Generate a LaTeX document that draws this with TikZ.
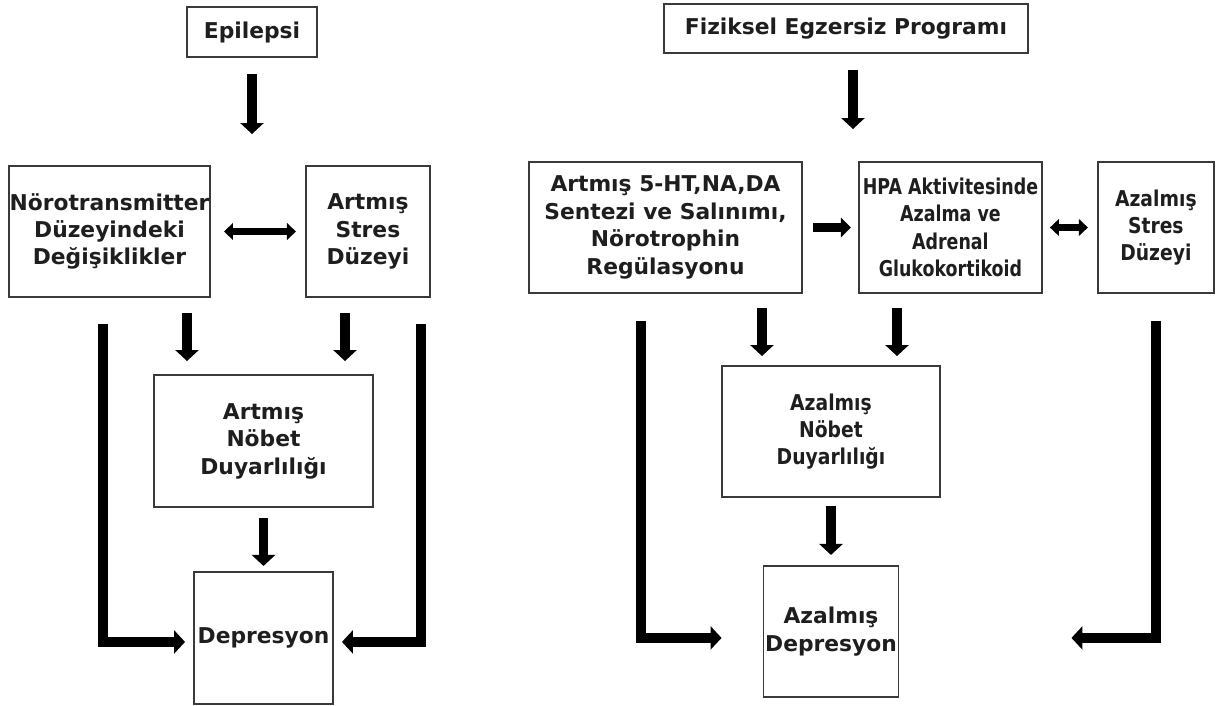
\documentclass[tikz,border=0pt]{standalone}
\usepackage{fontspec}
\setmainfont{DejaVu Sans}
\newfontfamily\narrowfont[FakeStretch=0.80]{DejaVu Sans}
\newfontfamily\semifont[FakeStretch=0.86]{DejaVu Sans}
\usetikzlibrary{
  arrows.meta,
  positioning
}
\definecolor{boxgray}{HTML}{3A3A3A}
\definecolor{txtgray}{HTML}{1E1E1E}

\begin{document}
\begin{tikzpicture}[
  box/.style={draw=boxgray, line width=1.1pt, minimum height=2.62cm, inner sep=0pt,
    align=center, text=txtgray, font=\fontsize{12.4}{15.6}\selectfont\bfseries},
  narrow/.style={font=\fontsize{12.4}{15.6}\selectfont\narrowfont\bfseries},
  semi/.style={font=\fontsize{12.4}{15.6}\selectfont\semifont\bfseries},
  arrow/.style={-{Triangle[length=0.22cm, width=0.46cm]}, line width=5.2pt},
  shortarrow/.style={-{Triangle[length=0.2cm, width=0.38cm]}, line width=4.8pt},
  elbow/.style={arrow, line width=5.8pt},
  twoway/.style={{Triangle[length=0.18cm, width=0.33cm]}-{Triangle[length=0.18cm, width=0.33cm]},
    line width=4.2pt}
]
  \useasboundingbox (0,0) rectangle (24.38,-14.12);

  % --- Epilepsi side ---
  \node[box, minimum width=4.02cm] (noro) at (2.19,-4.63) {Nörotransmitter\\Düzeyindeki\\Değişiklikler};
  \node[box, minimum width=2.48cm, right=1.88cm of noro] (stres) {Artmış\\Stres\\Düzeyi};
  \node[box, minimum width=2.6cm, minimum height=1cm] (epi) at (5.04,-0.64) {Epilepsi};
  \node[box, minimum width=4.38cm, minimum height=2.64cm] (nobet) at (5.27,-8.82) {Artmış\\Nöbet\\Duyarlılığı};
  \node[box, minimum width=2.78cm, minimum height=2.64cm, below=1.26cm of nobet] (dep) {Depresyon};

  % --- Egzersiz side ---
  \node[box, minimum width=5.46cm] (ht) at (13.31,-4.55) {Artmış 5-HT,NA,DA\\Sentezi ve Salınımı,\\Nörotrophin\\Regülasyonu};
  \node[box, narrow, minimum width=3.66cm, right=1.1cm of ht] (hpa) {HPA Aktivitesinde\\Azalma ve\\Adrenal\\Glukokortikoid};
  \node[box, semi, minimum width=2.32cm, right=1.08cm of hpa] (azs) {Azalmış\\Stres\\Düzeyi};
  \node[box, minimum width=7.28cm, minimum height=0.98cm] (fiz) at (16.92,-0.57) {Fiziksel Egzersiz Programı};
  \node[box, semi, minimum width=4.36cm] (azn) at (16.62,-8.63) {Azalmış\\Nöbet\\Duyarlılığı};
  \node[box, minimum width=2.7cm, below=1.34cm of azn] (azd) {Azalmış\\Depresyon};

  % --- Arrows: Epilepsi side ---
  \draw[arrow, shorten <=0.32cm, shorten >=0.62cm] (epi.south) -- (epi.south |- noro.north);
  \draw[twoway, shorten <=0.26cm, shorten >=0.18cm] (noro) -- (stres);
  \draw[arrow, shorten <=0.3cm, shorten >=0.26cm] ([xshift=-1.53cm]nobet.north |- noro.south) -- ([xshift=-1.53cm]nobet.north);
  \draw[arrow, shorten <=0.3cm, shorten >=0.26cm] ([xshift=1.63cm]nobet.north |- stres.south) -- ([xshift=1.63cm]nobet.north);
  \draw[arrow, shorten <=0.2cm, shorten >=0.1cm] (nobet.south) -- (nobet.south |- dep.north);
  \draw[elbow] ([xshift=-0.13cm, yshift=-0.52cm]noro.south) |- ([xshift=-0.16cm, yshift=-0.08cm]dep.west);
  \draw[elbow] ([xshift=-0.2cm, yshift=-0.52cm]stres.south east) |- ([xshift=0.16cm, yshift=-0.08cm]dep.east);

  % --- Arrows: Egzersiz side ---
  \draw[arrow, shorten <=0.32cm, shorten >=0.64cm] ([xshift=0.14cm]fiz.south) -- ([xshift=0.14cm]fiz.south |- hpa.north);
  \draw[shortarrow, shorten <=0.2cm, shorten >=0.14cm] (ht) -- (hpa);
  \draw[twoway, shorten <=0.14cm, shorten >=0.18cm] (hpa) -- (azs);
  \draw[arrow, shorten <=0.28cm, shorten >=0.18cm] ([xshift=-1.38cm]azn.north |- ht.south) -- ([xshift=-1.38cm]azn.north);
  \draw[arrow, shorten <=0.28cm, shorten >=0.18cm] ([xshift=1.32cm]azn.north |- hpa.south) -- ([xshift=1.32cm]azn.north);
  \draw[arrow, shorten <=0.16cm, shorten >=0.2cm] (azn.south) -- (azn.south |- azd.north);
  \draw[elbow] ([xshift=2.26cm, yshift=-0.54cm]ht.south west) |- ([xshift=-0.82cm, yshift=-0.13cm]azd.west);
  \draw[elbow] ([yshift=-0.54cm]azs.south) |- ([xshift=3.44cm, yshift=-0.13cm]azd.east);
\end{tikzpicture}
\end{document}
